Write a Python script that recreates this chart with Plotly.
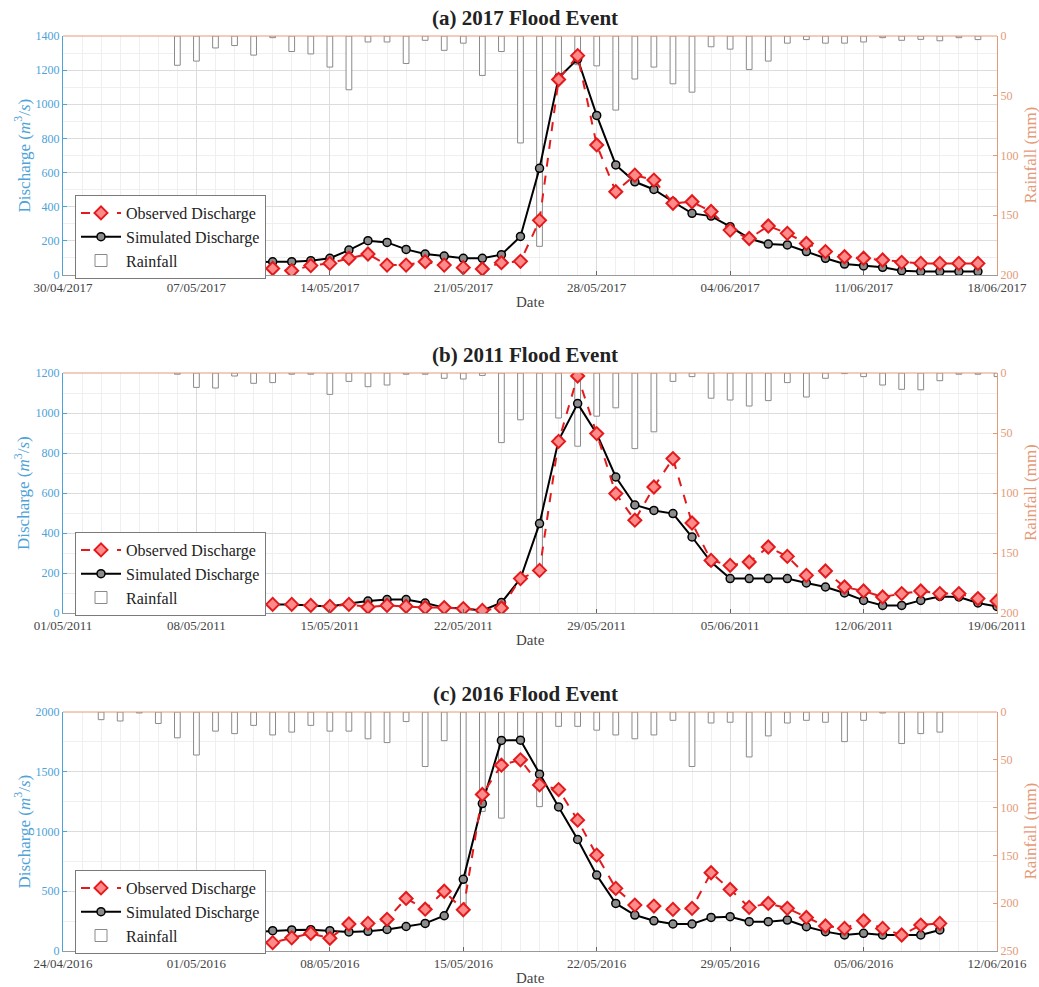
import plotly.graph_objects as go
import pandas as pd

DAY = 86400000

# ---------------- data ----------------
# (a) 2017 flood event, daily from 06/05/2017
a_start = "2017-05-06"
a_obs = [25, 35, 28, 50, 38, 38, 25, 55, 68, 98, 123, 58, 58, 78, 58, 43, 35, 72, 80, 320,
         1145, 1285, 762, 488, 585, 556, 420, 429, 372, 263, 214, 287, 244, 185, 137, 107,
         98, 88, 74, 68, 68, 68, 68]
a_sim = [65, 68, 70, 72, 75, 77, 78, 84, 98, 146, 201, 191, 150, 123, 111, 98, 98, 119, 226,
         625, 1155, 1265, 935, 645, 546, 501, 429, 361, 345, 283, 214, 181, 176, 137, 98, 64,
         53, 45, 25, 20, 20, 20, 20]
a_rain = [24.5, 21, 10, 8, 16, 1.4, 13, 15, 26, 45, 5, 5, 23, 3.6, 12, 6, 33, 13, 89.5, 176,
          36.5, 24, 25, 62, 36, 26, 40, 47, 9, 11, 28, 21, 6, 3, 6, 6, 5, 1.4, 3.6, 2.8, 4,
          1.4, 3]
a_xrange = ["2017-04-30", "2017-06-18"]

# (b) 2011 flood event, daily from 07/05/2011
b_start = "2011-05-07"
b_obs = [65, 47, 47, 50, 43, 43, 43, 38, 33, 43, 30, 38, 33, 27, 27, 22, 13, 25, 172, 213,
         858, 1185, 897, 597, 464, 630, 772, 450, 263, 238, 255, 330, 283, 188, 210, 130,
         110, 80, 97, 110, 97, 97, 72, 60]
b_sim = [72, 47, 47, 50, 43, 43, 43, 38, 33, 47, 60, 67, 67, 50, 27, 22, 13, 52, 172, 447,
         863, 1047, 897, 680, 540, 513, 497, 380, 255, 172, 172, 172, 172, 150, 130, 100,
         63, 38, 38, 63, 83, 80, 50, 33]
b_rain = [1, 12, 12.5, 2.5, 8.6, 8, 1, 1, 17.8, 7, 11.4, 10, 1, 1, 4.4, 5, 2, 58, 39, 163,
          37.5, 61, 36, 29, 63, 49, 7, 3, 21, 22.5, 27.5, 23, 8, 20, 4.4, 0.5, 3, 10, 13.6,
          14, 6.4, 1, 1, 3]
b_xrange = ["2011-05-01", "2011-06-19"]

# (c) 2016 flood event, daily from 26/04/2016
c_start = "2016-04-26"
c_obs = [31, 42, 42, 42, 64, 118, 125, 106, 86, 70, 110, 148, 106, 226, 231, 265, 440, 350,
         500, 345, 1310, 1555, 1600, 1390, 1351, 1095, 802, 524, 384, 376, 348, 357, 655,
         515, 365, 398, 357, 281, 209, 189, 253, 189, 134, 217, 231]
c_sim = [22, 36, 42, 42, 70, 120, 140, 150, 160, 170, 176, 178, 170, 160, 165, 180, 205, 231,
         295, 600, 1234, 1762, 1764, 1480, 1206, 933, 635, 398, 301, 253, 226, 226, 281, 287,
         245, 245, 259, 203, 162, 134, 148, 134, 134, 134, 176]
c_rain = [8, 9.4, 1, 12, 27, 45, 20, 22.6, 14, 24, 21, 14, 20, 20, 28, 32, 10, 57, 30, 205,
          104, 111, 30, 99, 15, 15, 19, 24, 28, 24, 8.7, 57, 11.5, 10.7, 47, 25, 11.5, 8.7,
          10.7, 31, 8.7, 1, 33, 22.6, 21]
c_xrange = ["2016-04-24", "2016-06-12"]

titles = ["(a) 2017 Flood Event", "(b) 2011 Flood Event", "(c) 2016 Flood Event"]
q_max = [1400, 1200, 2000]
q_step = [200, 200, 500]
r_max = [200, 200, 250]

# ---------------- styling ----------------
W, H = 1039, 987
FONT = "Liberation Serif"
BLUE = "#4da2d8"
ORANGE = "#e39a78"
GRID = "#dcdcdc"
MINOR = "#efefef"
BAR_EDGE = "#8a8a8a"

X0, X1 = 63 / W, 997 / W
panel_px = [(36, 275), (373, 613), (712, 951)]  # top, bottom in pixels

panels = [
    (a_start, a_obs, a_sim, a_rain, a_xrange),
    (b_start, b_obs, b_sim, b_rain, b_xrange),
    (c_start, c_obs, c_sim, c_rain, c_xrange),
]
legend_top_px = [195, 532, 870]

fig = go.Figure()
layout = dict(
    width=W, height=H, autosize=False,
    margin=dict(l=0, r=0, t=0, b=0, autoexpand=False),
    paper_bgcolor="white", plot_bgcolor="white",
    font=dict(family=FONT, color="#333"),
    shapes=[], annotations=[],
    barmode="overlay",
)

for i, (start, obs, sim, rain, xr) in enumerate(panels):
    n = i + 1
    xid = "x" if n == 1 else f"x{n}"
    ry = "y" if n == 1 else f"y{2 * n - 1}"   # rainfall (base, right side)
    qy = f"y{2 * n}"                           # discharge (overlay, left side)
    leg = "legend" if n == 1 else f"legend{n}"
    top, bot = panel_px[i]
    yd = [1 - bot / H, 1 - top / H]

    d_r = pd.date_range(start, periods=len(rain), freq="D")
    d_o = pd.date_range(start, periods=len(obs), freq="D")
    d_s = pd.date_range(start, periods=len(sim), freq="D")

    fig.add_trace(go.Bar(
        x=d_r, y=rain, width=0.3 * DAY, name="Rainfall",
        marker=dict(color="white", line=dict(color=BAR_EDGE, width=1)),
        xaxis=xid, yaxis=ry, legend=leg, legendrank=3))
    fig.add_trace(go.Scatter(
        x=d_s, y=sim, mode="lines+markers", name="Simulated Discharge",
        line=dict(color="black", width=2),
        marker=dict(symbol="circle", size=8, color="#8c8c8c",
                    line=dict(color="black", width=1.5)),
        xaxis=xid, yaxis=qy, legend=leg, legendrank=2))
    fig.add_trace(go.Scatter(
        x=d_o, y=obs, mode="lines+markers", name="Observed Discharge",
        line=dict(color="#e31a1c", width=2, dash="dash"),
        marker=dict(symbol="diamond", size=10, color="#ff8a8a",
                    line=dict(color="#e31a1c", width=2)),
        xaxis=xid, yaxis=qy, legend=leg, legendrank=1))

    xkey = "xaxis" if n == 1 else f"xaxis{n}"
    rkey = "yaxis" if n == 1 else f"yaxis{2 * n - 1}"
    qkey = f"yaxis{2 * n}"

    layout[xkey] = dict(
        domain=[X0, X1], anchor=ry, type="date", range=xr, automargin=False,
        tick0=xr[0], dtick=7 * DAY, tickformat="%d/%m/%Y",
        ticks="inside", ticklen=4, tickcolor="#666",
        showline=True, linecolor="#9a9a9a", linewidth=1, mirror=False,
        showgrid=True, gridcolor=GRID, gridwidth=1,
        minor=dict(dtick=DAY, showgrid=True, gridcolor=MINOR, ticks=""),
        tickfont=dict(family=FONT, size=13, color="#444"),
        zeroline=False,
    )
    layout[rkey] = dict(
        domain=yd, anchor=xid, side="right", range=[r_max[i], 0], automargin=False,
        dtick=50, tick0=0, ticks="inside", ticklen=4, tickcolor=ORANGE,
        showline=True, linecolor=ORANGE, linewidth=1,
        showgrid=False, zeroline=False,
        tickfont=dict(family=FONT, size=12, color=ORANGE),
    )
    layout[qkey] = dict(
        overlaying=ry, anchor=xid, side="left", range=[0, q_max[i]], automargin=False,
        dtick=q_step[i], tick0=0, ticks="inside", ticklen=4, tickcolor=BLUE,
        showline=True, linecolor=BLUE, linewidth=1,
        showgrid=True, gridcolor=GRID, gridwidth=1,
        minor=dict(dtick=q_step[i] / 2, showgrid=True, gridcolor=MINOR, ticks=""),
        zeroline=False,
        tickfont=dict(family=FONT, size=12, color=BLUE),
    )
    # top border of the box (coloured like the right axis)
    layout["shapes"].append(dict(
        type="line", xref=f"{xid} domain", yref=f"{ry} domain",
        x0=0, x1=1, y0=1, y1=1, line=dict(color=ORANGE, width=1)))

    layout[leg] = dict(
        x=75 / W, y=1 - legend_top_px[i] / H, xanchor="left", yanchor="top",
        bgcolor="white", bordercolor="#7a7a7a", borderwidth=1,
        font=dict(family=FONT, size=16, color="#222"),
        tracegroupgap=0, itemwidth=40, entrywidth=185, entrywidthmode="pixels",
    )

    mid = (top + bot) / 2
    ann = layout["annotations"]
    ann.append(dict(text=titles[i], xref="paper", yref="paper",
                    x=525 / W, y=1 - (top - 18) / H, xanchor="center", yanchor="middle",
                    showarrow=False, font=dict(family=FONT, size=21, color="#222", weight="bold")))
    ann.append(dict(text="Date", xref="paper", yref="paper",
                    x=530 / W, y=1 - (bot + 27) / H, xanchor="center", yanchor="middle",
                    showarrow=False, font=dict(family=FONT, size=15, color="#444")))
    ann.append(dict(text="Discharge (<i>m</i><sup>3</sup>/<i>s</i>)", xref="paper", yref="paper",
                    x=22 / W, y=1 - mid / H, xanchor="center", yanchor="middle",
                    textangle=-90, showarrow=False,
                    font=dict(family=FONT, size=17, color=BLUE)))
    ann.append(dict(text="Rainfall (mm)", xref="paper", yref="paper",
                    x=1030 / W, y=1 - mid / H, xanchor="center", yanchor="middle",
                    textangle=-90, showarrow=False,
                    font=dict(family=FONT, size=17, color=ORANGE)))

fig.update_layout(**layout)
fig.write_html("out.html")
